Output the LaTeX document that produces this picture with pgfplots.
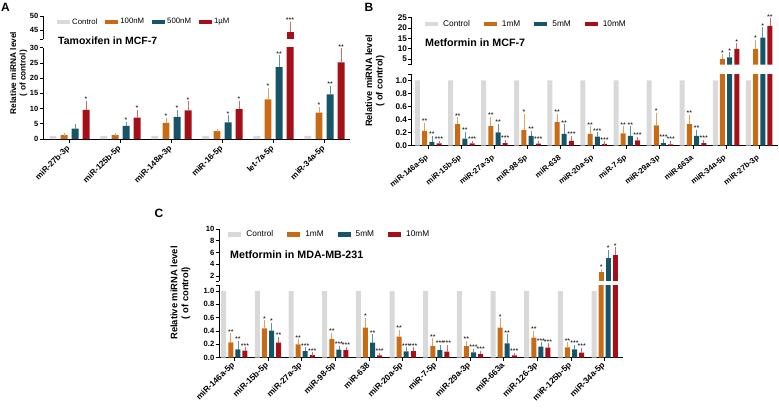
\documentclass[border=0pt]{standalone}
\usepackage{fontspec}
\setmainfont{Liberation Sans}
\usepackage{pgfplots}
\usepackage{pgfplotstable}
\pgfplotsset{compat=1.18}

\definecolor{cgray}{HTML}{D9D9D9}
\definecolor{corange}{HTML}{C96A14}
\definecolor{cteal}{HTML}{165567}
\definecolor{cred}{HTML}{A51018}
\definecolor{eorange}{HTML}{E6A05E}
\definecolor{eteal}{HTML}{5E93A3}
\definecolor{ered}{HTML}{D46A6A}

\newcommand\fs[1]{\fontsize{#1}{#1}\selectfont}

% mean / error / significance for each dose
\pgfplotstableread{
x c m1 e1 s1 m2 e2 s2 m3 e3 s3
0 1 1.3 0.3 {} 3.4 1.0 {} 9.6 2.5 *
1 1 1.3 0.3 {} 4.3 0.9 * 7.0 2.0 *
2 1 5.3 1.2 * 7.3 1.7 * 9.4 2.4 *
3 1 2.6 0.3 {} 5.5 1.7 * 9.8 2.3 *
4 1 13.0 3.2 * 23.6 3.4 ** 44.2 3.2 ***
5 1 8.7 1.4 * 14.7 2.3 ** 25.2 4.1 **
}\tabA

\pgfplotstableread{
x c m1 e1 s1 m2 e2 s2 m3 e3 s3
0 1 0.225 0.105 ** 0.06 0.07 ** 0.035 0.015 ***
1 1 0.33 0.08 ** 0.11 0.08 ** 0.035 0.015 ***
2 1 0.30 0.12 ** 0.205 0.10 ** 0.04 0.025 ***
3 1 0.24 0.22 * 0.15 0.05 ** 0.03 0.015 ***
4 1 0.36 0.10 ** 0.18 0.12 ** 0.075 0.055 ***
5 1 0.18 0.09 ** 0.14 0.04 *** 0.026 0.014 ***
6 1 0.19 0.08 ** 0.15 0.12 ** 0.08 0.03 ***
7 1 0.31 0.17 * 0.04 0.04 *** 0.02 0.03 ***
8 1 0.33 0.12 ** 0.15 0.07 ** 0.04 0.025 ***
9 1 4.9 1.6 * 5.8 1.6 * 9.9 1.9 *
10 1 9.9 3.5 * 15.4 4.1 * 21.0 2.9 **
}\tabB

\pgfplotstableread{
x c m1 e1 s1 m2 e2 s2 m3 e3 s3
0 1 0.23 0.11 ** 0.126 0.10 ** 0.105 0.025 ***
1 1 0.44 0.095 * 0.405 0.095 * 0.225 0.065 **
2 1 0.20 0.05 ** 0.10 0.03 *** 0.04 0.015 ***
3 1 0.28 0.07 ** 0.12 0.03 *** 0.115 0.025 ***
4 1 0.45 0.125 * 0.225 0.10 ** 0.035 0.015 ***
5 1 0.315 0.075 ** 0.095 0.035 *** 0.10 0.03 ***
6 1 0.175 0.09 ** 0.115 0.05 *** 0.09 0.075 ***
7 1 0.175 0.055 ** 0.08 0.025 *** 0.055 0.02 ***
8 1 0.45 0.115 * 0.215 0.11 ** 0.035 0.015 ***
9 1 0.30 0.075 ** 0.165 0.04 *** 0.15 0.04 ***
10 1 0.155 0.05 ** 0.125 0.04 *** 0.075 0.05 ***
11 1 2.6 0.4 * 5.1 1.1 * 5.6 1.0 *
}\tabC

\pgfplotsset{
  base/.style={scale only axis, anchor=south west, ybar,
    axis line style={line width=0.9pt, black},
    every tick/.style={line width=0.8pt, black},
    major tick length=3.5pt, tick align=outside,
    yticklabel style={inner sep=1pt},
    xticklabel style={anchor=east, inner sep=1pt},
    /pgf/number format/assume math mode=true},
  lowax/.style={axis lines*=left, bdom/.style={}},
  upax/.style={axis y line*=left, axis x line=none, extra y tick labels={},
    legend image code/.code={\fill[##1] (0pt,-2.3pt) rectangle (13pt,2.3pt);},
    legend style={draw=none, fill=none, legend columns=4, inner sep=0pt}},
  dec/.style={yticklabel style={/pgf/number format/.cd, fixed, fixed zerofill, precision=1}},
  s0/.style={fill=cgray, draw=none},
  s1/.style={fill=corange, draw=none},
  s2/.style={fill=cteal, draw=none},
  s3/.style={fill=cred, draw=none},
  eb/.style={draw=none, fill=none, forget plot,
    error bars/y dir=plus, error bars/y explicit,
    error bars/error bar style={line width=0.7pt, draw=#1},
    error bars/error mark options={draw=#1, line width=0.7pt, mark size=1.6pt}},
  st/.style={draw=none, fill=none, forget plot, nodes near coords, point meta=explicit symbolic,
    every node near coord/.append style={font=\fs{7}, inner sep=0.6pt, anchor=south, black}},
  shA/.style={bar width=0.137, b0/.style={bar shift=-0.324}, b1/.style={bar shift=-0.108},
    b2/.style={bar shift=0.108}, b3/.style={bar shift=0.324}, xmin=-0.52, xmax=5.5,
    xticklabel style={font=\bfseries\fs{8.2}, rotate=45},
    yticklabel style={font=\bfseries\fs{7.5}},
    legend style={font=\fs{7.8}, /tikz/every even column/.append style={column sep=6pt}}},
  shB/.style={bar width=0.151, b0/.style={bar shift=-0.326}, b1/.style={bar shift=-0.109},
    b2/.style={bar shift=0.109}, b3/.style={bar shift=0.326}, xmin=-0.5, xmax=10.57,
    xticklabel style={font=\bfseries\fs{7.8}, rotate=39},
    yticklabel style={font=\bfseries\fs{8.2}},
    legend style={font=\fs{8.3}, /tikz/every even column/.append style={column sep=12pt},
      /tikz/every odd column/.append style={column sep=3pt}}},
  shC/.style={bar width=0.148, b0/.style={bar shift=-0.316}, b1/.style={bar shift=-0.105},
    b2/.style={bar shift=0.105}, b3/.style={bar shift=0.316}, xmin=-0.455, xmax=11.553,
    xticklabel style={font=\bfseries\fs{8.4}, rotate=45},
    yticklabel style={font=\bfseries\fs{7.6}},
    legend style={font=\fs{8.3}, /tikz/every even column/.append style={column sep=12pt},
      /tikz/every odd column/.append style={column sep=3pt}}},
}

\newcommand\drawbars[1]{%
  \addplot[s0,b0,bdom] table[x=x,y=c]{#1};
  \addplot[s1,b1,bdom] table[x=x,y=m1]{#1};
  \addplot[s2,b2,bdom] table[x=x,y=m2]{#1};
  \addplot[s3,b3,bdom] table[x=x,y=m3]{#1};
  \addplot[b1,dom,eb=eorange] table[x=x,y=m1,y error=e1]{#1};
  \addplot[b2,dom,eb=eteal] table[x=x,y=m2,y error=e2]{#1};
  \addplot[b3,dom,eb=ered] table[x=x,y=m3,y error=e3]{#1};
  \addplot[st,b1,dom] table[x=x,y expr=\thisrow{m1}+\thisrow{e1},meta=s1]{#1};
  \addplot[st,b2,dom] table[x=x,y expr=\thisrow{m2}+\thisrow{e2},meta=s2]{#1};
  \addplot[st,b3,dom] table[x=x,y expr=\thisrow{m3}+\thisrow{e3},meta=s3]{#1};
}
\newcommand\keys[4]{%
  \addlegendimage{s0}\addlegendentry{#1}
  \addlegendimage{s1}\addlegendentry{#2}
  \addlegendimage{s2}\addlegendentry{#3}
  \addlegendimage{s3}\addlegendentry{#4}
}

\begin{document}
\begin{tikzpicture}
\useasboundingbox (0,0) rectangle (779pt,-409pt);

% ---- A ----
\begin{axis}[base, lowax, shA, at={(43pt,-139pt)}, width=307pt, height=91.3pt,
  ymin=0, ymax=30, ytick={0,5,...,30}, xtick={0,...,5}, xticklabel shift=4pt,
  xticklabels={miR-27b-3p,miR-125b-5p,miR-148a-3p,miR-16-5p,let-7a-5p,miR-34a-5p},
  dom/.style={restrict y to domain=0:30.5}]
\drawbars{\tabA}
\end{axis}
\begin{axis}[base, upax, shA, at={(43pt,-39.3pt)}, width=307pt, height=23.3pt,
  ymin=41.7, ymax=50, ytick={45,50}, extra y ticks={41.7},
  legend style={at={(0.0456,0.742)}, anchor=west},
  dom/.style={restrict y to domain=41:60},
  bdom/.style={restrict y to domain=41:60, forget plot}]
\keys{Control}{100nM}{500nM}{1µM}
\drawbars{\tabA}
\end{axis}

% ---- B ----
\begin{axis}[base, lowax, shB, dec, at={(411.7pt,-145.7pt)}, width=366.3pt, height=71.3pt,
  ymin=0, ymax=1.09, ytick={0,0.2,0.4,0.6,0.8,1}, extra y ticks={1.09}, extra y tick labels={},
  xtick={0,...,10}, xticklabel shift=7pt,
  xticklabels={miR-146a-5p,miR-15b-5p,miR-27a-3p,miR-98-5p,miR-638,miR-20a-5p,miR-7-5p,miR-29a-3p,miR-663a,miR-34a-5p,miR-27b-3p},
  dom/.style={restrict y to domain=0:1.1}]
\drawbars{\tabB}
\end{axis}
\begin{axis}[base, upax, shB, at={(411.7pt,-64.6pt)}, width=366.3pt, height=46.9pt,
  ymin=2.3, ymax=25, ytick={5,10,...,25}, extra y ticks={2.3},
  legend style={at={(0.0363,0.866)}, anchor=west},
  dom/.style={restrict y to domain=2:30},
  bdom/.style={restrict y to domain=2:30, forget plot}]
\keys{Control}{1mM}{5mM}{10mM}
\drawbars{\tabB}
\end{axis}

% ---- C ----
\begin{axis}[base, lowax, shC, dec, at={(219pt,-357.7pt)}, width=404.3pt, height=72.7pt,
  ymin=0, ymax=1.09, ytick={0,0.2,0.4,0.6,0.8,1}, extra y ticks={1.09}, extra y tick labels={},
  xtick={0,...,11}, xticklabel shift=2pt,
  xticklabels={miR-146a-5p,miR-15b-5p,miR-27a-3p,miR-98-5p,miR-638,miR-20a-5p,miR-7-5p,miR-29a-3p,miR-663a,miR-126-3p,miR-125b-5p,miR-34a-5p},
  dom/.style={restrict y to domain=0:1.1}]
\drawbars{\tabC}
\end{axis}
\begin{axis}[base, upax, shC, at={(219pt,-281.3pt)}, width=404.3pt, height=52.3pt,
  ymin=1.1, ymax=10, ytick={2,4,...,10}, extra y ticks={1.1},
  legend style={at={(0.023,0.899)}, anchor=west},
  dom/.style={restrict y to domain=1.1:20},
  bdom/.style={restrict y to domain=1.1:20, forget plot}]
\keys{Control}{1mM}{5mM}{10mM}
\drawbars{\tabC}
\end{axis}

% titles, axis labels, panel letters
\begin{scope}[every node/.style={inner sep=0pt}]
\node[anchor=west, font=\bfseries\fs{10.5}] at (58pt,-41pt) {Tamoxifen in MCF-7};
\node[anchor=west, font=\bfseries\fs{10.7}] at (425pt,-42.3pt) {Metformin in MCF-7};
\node[anchor=west, font=\bfseries\fs{10.7}] at (230pt,-254.3pt) {Metformin in MDA-MB-231};
\node[rotate=90, align=center, font=\bfseries\fontsize{8.3}{9.5}\selectfont] at (18.7pt,-73pt) {Relative miRNA level\\( of control)};
\node[rotate=90, align=center, font=\bfseries\fontsize{9.2}{10.5}\selectfont] at (375pt,-81pt) {Relative miRNA level\\( of control)};
\node[rotate=90, align=center, font=\bfseries\fontsize{9.4}{11}\selectfont] at (180.5pt,-293pt) {Relative miRNA level\\( of control)};
\node[font=\bfseries\fs{12}] at (5.5pt,-7.5pt) {A};
\node[font=\bfseries\fs{12}] at (369pt,-7.5pt) {B};
\node[font=\bfseries\fs{12}] at (159pt,-213pt) {C};
\end{scope}
\end{tikzpicture}
\end{document}
